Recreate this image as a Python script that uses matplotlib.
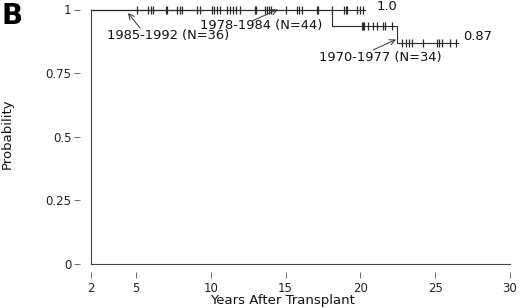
import numpy as np
import matplotlib.pyplot as plt

# Kaplan-Meier style data
# 1970-1977 cohort: step times and survival levels
t_7077 = [2, 18.09, 22.44, 26.5]
s_7077 = [1.0, 0.935, 0.87, 0.87]
cens_7077_mid = [20.09, 20.16, 20.25, 20.54, 20.83, 21.14, 21.5, 21.65, 22.1]
cens_7077_low = [22.76, 23.05, 23.27, 23.43, 24.2, 25.1, 25.27, 25.43, 25.99, 26.37]

# 1978-1984 cohort: flat at 1
t_7884 = [2, 20.3]
s_7884 = [1.0, 1.0]
cens_7884 = [10.07, 10.24, 10.44, 10.63, 11.11, 11.29, 11.49, 11.67, 11.98,
             12.96, 13.03, 13.63, 13.76, 13.92, 14.01, 15.03, 15.79, 15.92,
             16.08, 17.09, 17.15, 18.09, 18.91, 19.02, 19.13, 19.76, 19.98, 20.16]

# 1985-1992 cohort: flat at 1
t_8592 = [2, 9.5]
s_8592 = [1.0, 1.0]
cens_8592 = [5.05, 5.83, 5.99, 6.16, 6.99, 7.05, 7.77, 7.95, 8.1, 9.1, 9.29]

xticks = [2, 5, 10, 15, 20, 25, 30]
yticks = [0, 0.25, 0.5, 0.75, 1]
ytick_labels = ['0', '0.25', '0.5', '0.75', '1']

plt.rcParams['font.family'] = ['DejaVu Sans']
col = '#2a2a2a'

fig = plt.figure(figsize=(5.2, 3.08), dpi=100)
W, H = 520, 308
ax = fig.add_axes([91 / W, (H - 264) / H, (510 - 91) / W, (264 - 9.5) / H])
ax.set_xlim(2, 30)
ax.set_ylim(0, 1)

# curves
ax.step(t_8592, s_8592, where='post', color=col, lw=0.8, clip_on=False)
ax.step(t_7884, s_7884, where='post', color=col, lw=0.8, clip_on=False)
ax.step(t_7077, s_7077, where='post', color=col, lw=0.8, clip_on=False)

# censor marks
def level(t_steps, s_steps, t):
    idx = np.searchsorted(t_steps, t, side='right') - 1
    return s_steps[idx]

for times, ts, ss in [(cens_8592, t_8592, s_8592), (cens_7884, t_7884, s_7884),
                      (cens_7077_mid + cens_7077_low, t_7077, s_7077)]:
    ys = [level(ts, ss, t) for t in times]
    ax.plot(times, ys, ls='none', marker='|', ms=6.2, mew=0.9, color=col, clip_on=False)

# axes styling: detached ticks, spines drawn separately
for s in ['top', 'right']:
    ax.spines[s].set_visible(False)
ax.spines['left'].set_position(('outward', 7.9))
ax.spines['bottom'].set_position(('outward', 5.8))
ax.spines['left'].set_visible(False)
ax.spines['bottom'].set_visible(False)
ax.axvline(2, color='#444444', lw=0.8, clip_on=False)
ax.axhline(0, color='#444444', lw=0.8, clip_on=False)

ax.set_xticks(xticks)
ax.set_yticks(yticks)
ax.set_yticklabels(ytick_labels)
ax.tick_params(axis='both', direction='out', length=4.3, width=0.6, color='#555555',
               labelsize=8.5, labelcolor='#222222')
ax.tick_params(axis='x', pad=2.8)
ax.tick_params(axis='y', pad=1.8)

def px(x, y):
    # pixel position in the picture -> data coords
    return 2 + (x - 91) / (419 / 28), (264 - y) / 254.5

# annotations
fs = 9.4
ax.text(*px(168.5, 36), '1985-1992 (N=36)', ha='center', va='center', fontsize=fs, color='#111111')
ax.text(*px(261.5, 26), '1978-1984 (N=44)', ha='center', va='center', fontsize=fs, color='#111111')
ax.text(*px(380, 58), '1970-1977 (N=34)', ha='center', va='center', fontsize=fs, color='#111111')
ax.text(*px(377, 6.5), '1.0', ha='left', va='center', fontsize=fs, color='#111111')
ax.text(*px(463, 36), '0.87', ha='left', va='center', fontsize=fs, color='#111111')

arrow = dict(arrowstyle='->', color='#333333', lw=0.7, shrinkA=0, shrinkB=0)
ax.annotate('', xy=px(128, 13), xytext=px(140, 28), arrowprops=arrow, annotation_clip=False)
ax.annotate('', xy=px(278, 9.5), xytext=px(252, 21), arrowprops=arrow, annotation_clip=False)
ax.annotate('', xy=px(396, 39.5), xytext=px(373, 50), arrowprops=arrow, annotation_clip=False)

fig.text(282 / W, 1 - 300.5 / H, 'Years After Transplant', ha='center', va='center',
         fontsize=9.5, color='#111111')
fig.text(7.5 / W, 1 - 134 / H, 'Probability', ha='center', va='center', rotation=90,
         fontsize=9.5, color='#111111')
fig.text(1 / W, 1 - 2 / H, 'B', ha='left', va='top', fontsize=20, fontweight='bold')

fig.savefig('out.png', dpi=100)
